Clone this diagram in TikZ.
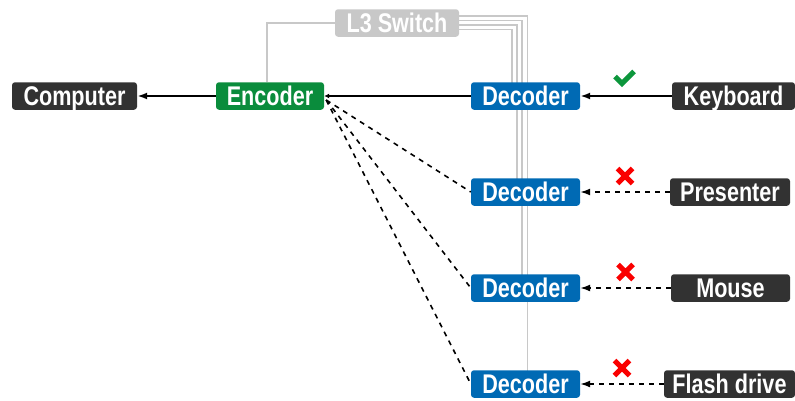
\documentclass[tikz,border=0pt]{standalone}
\usepackage{fontspec}
\setmainfont{Liberation Sans}[FakeStretch=0.8]
\usetikzlibrary{arrows.meta,backgrounds,calc}

\definecolor{devgray}{RGB}{50,50,50}
\definecolor{encgreen}{RGB}{10,140,60}
\definecolor{decblue}{RGB}{0,106,180}
\definecolor{swgray}{RGB}{200,200,200}
\definecolor{okgreen}{RGB}{12,150,60}
\definecolor{badred}{RGB}{250,0,0}

\begin{document}
\begin{tikzpicture}[x=1pt,y=-1pt,
  box/.style={rounded corners=3pt, minimum height=27.5pt, inner sep=0pt,
    text height=18.4pt, text depth=0pt, text=white,
    font=\bfseries\fontsize{27}{27}\selectfont},
  devbox/.style={box, fill=devgray},
  encbox/.style={box, fill=encgreen},
  decbox/.style={box, fill=decblue, minimum width=109pt},
  swbox/.style={box, fill=swgray},
  wire/.style={draw=swgray, line width=1.5pt},
  link/.style={line width=2pt},
  dashlink/.style={line width=1.6pt, dash pattern=on 5pt off 5pt},
  bigtip/.style={-{Latex[length=10pt,width=7pt]}},
  smalltip/.style={-{Latex[length=5pt,width=5pt]}},
  okmark/.style={draw=okgreen, line width=5pt},
  nomark/.style={draw=badred, line width=5pt}]
\useasboundingbox (0,0) rectangle (795,400);

% devices and boxes
\node[devbox, minimum width=125pt] (comp) at (74.5,96) {Computer};
\node[encbox, minimum width=108pt] (enc) at (270,96) {Encoder};
\node[decbox] (d1) at (525.5,96) {Decoder};
\node[decbox] (d2) at (525.5,192) {Decoder};
\node[decbox] (d3) at (525.5,288) {Decoder};
\node[decbox] (d4) at (525.5,384) {Decoder};
\node[devbox, minimum width=123pt] (kb) at (733.5,96) {Keyboard};
\node[devbox, minimum width=120pt] (pr) at (730,192) {Presenter};
\node[devbox, minimum width=119pt] (ms) at (730.5,288) {Mouse};
\node[devbox, minimum width=131pt] (fd) at (729.5,384) {Flash drive};
\node[swbox, minimum width=124pt] (sw) at (397,23) {L3 Switch};

% network cabling behind the boxes
\begin{pgfonlayer}{background}
  \draw[wire] (sw.west) -| ([xshift=-3pt]enc.north);
  \draw[wire] ([yshift=-6.5pt]sw.east) -| ([xshift=-13.5pt]d1.center);
  \draw[wire] ([yshift=-2pt]sw.east) -| ([xshift=-8.5pt]d2.center);
  \draw[wire] ([yshift=2.5pt]sw.east) -| ([xshift=-3.5pt]d3.center);
  \draw[wire] ([yshift=7pt]sw.east) -| ([xshift=2pt]d4.center);
\end{pgfonlayer}

% USB links
\draw[link, bigtip] (enc) -- (comp);
\draw[link, bigtip] (kb) -- (d1);
\draw[link, smalltip] (d1) -- (enc);
\draw[dashlink, bigtip] (pr) -- (d2);
\draw[dashlink, bigtip] (ms) -- (d3);
\draw[dashlink, bigtip] (fd) -- (d4);
\foreach \d in {d2,d3,d4}
  \draw[dashlink] ([shift={(2pt,-4pt)}]enc.east) -- (\d.west);

% status marks
\draw[okmark] ($(d1.east)!.5!(kb.west)+(0,-18)$)
  +(-11,-1.5) -- +(-4,5.5) -- +(8,-6.5);
\foreach \a/\b in {d2/pr,d3/ms,d4/fd}
  \draw[nomark] ($(\a.east)!.5!(\b.west)+(0,-16)$)
    +(-7.5,-7.5) -- +(7.5,7.5) +(-7.5,7.5) -- +(7.5,-7.5);
\end{tikzpicture}
\end{document}
